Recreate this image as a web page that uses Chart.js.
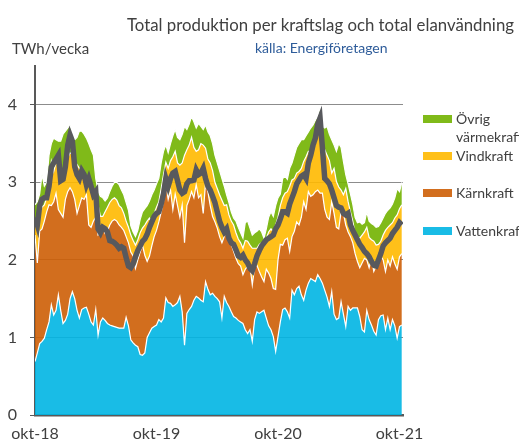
<!DOCTYPE html>
<html lang="sv">
<head>
<meta charset="utf-8">
<title>Total produktion per kraftslag och total elanvändning</title>
<script src="https://cdn.jsdelivr.net/npm/chart.js@4.4.1/dist/chart.umd.min.js"></script>
<style>
    html, body { margin: 0; padding: 0; background: #fff; }
    #wrap { position: relative; width: 519px; height: 439px; overflow: hidden; font-family: Lato, "Open Sans", sans-serif; }
    #chart { position: absolute; left: 0; top: 0; }
    .title { position: absolute; left: 127px; top: 14px; font-size: 16.8px; color: #404040; white-space: nowrap; }
    .source { position: absolute; left: 255px; top: 39px; font-size: 14px; color: #2e5c9a; white-space: nowrap; }
    .unit { position: absolute; left: 12px; top: 39px; font-size: 15px; color: #404040; white-space: nowrap; }
    .swatch { position: absolute; left: 423px; width: 29px; height: 8px; }
    .swatch::after { content: ""; position: absolute; left: 0; right: 0; bottom: -2px; height: 1px; background: rgba(255,255,255,0.8); }
    .label { position: absolute; left: 456px; font-size: 14px; line-height: 18px; color: #404040; width: 60px; }
</style>
</head>
<body>
<div id="wrap">
    <canvas id="chart" width="519" height="439"></canvas>
    <div class="title">Total produktion per kraftslag och total elanvändning</div>
    <div class="source">källa: Energiföretagen</div>
    <div class="unit">TWh/vecka</div>
    <div id="legend"></div>
</div>
<script>
// weekly values, TWh/vecka, from week 40 2018
const vattenkraft = [
    0.69, 0.80, 0.92, 0.95, 0.99, 1.10, 1.20, 1.42, 1.29, 1.35, 1.55, 1.35, 1.18, 1.22, 1.30, 1.50, 1.59, 1.50, 1.35, 1.25,
    1.36, 1.38, 1.39, 1.30, 1.20, 1.16, 1.36, 1.03, 1.20, 1.25, 1.22, 1.18, 1.16, 1.15, 1.14, 1.13, 1.12, 1.12, 1.12, 1.26,
    1.15, 0.97, 0.93, 0.90, 0.88, 0.78, 0.77, 0.80, 1.00, 1.06, 1.12, 1.14, 1.16, 1.23, 1.20, 1.25, 1.51, 1.45, 1.44, 1.40,
    1.42, 1.45, 1.53, 1.33, 0.90, 1.31, 1.36, 1.40, 1.48, 1.53, 1.51, 1.48, 1.46, 1.72, 1.62, 1.55, 1.57, 1.53, 1.50, 1.46,
    1.25, 1.53, 1.45, 1.40, 1.33, 1.27, 1.25, 1.22, 1.20, 1.18, 1.10, 1.05, 1.10, 0.95, 1.23, 1.33, 1.31, 1.33, 1.35, 1.25,
    1.15, 1.10, 1.01, 0.82, 1.01, 1.20, 1.36, 1.38, 1.33, 1.25, 1.61, 1.55, 1.63, 1.66, 1.55, 1.48, 1.61, 1.70, 1.76, 1.74,
    1.72, 1.81, 1.76, 1.70, 1.61, 1.52, 1.40, 1.59, 1.30, 1.23, 1.25, 1.46, 1.30, 1.14, 1.40, 1.35, 1.38, 1.38, 1.38, 1.27,
    1.10, 1.07, 1.35, 1.23, 1.16, 1.08, 1.03, 1.23, 1.28, 1.29, 1.10, 1.25, 1.10, 1.23, 1.15, 0.99, 1.14, 1.16
];
const karnkraft = [
    1.63, 1.16, 1.45, 1.45, 1.51, 1.52, 1.51, 1.28, 1.46, 1.51, 1.10, 1.25, 1.37, 1.56, 1.58, 1.43, 1.29, 1.28, 1.25, 1.45,
    1.44, 1.40, 1.45, 1.15, 1.22, 1.34, 1.19, 1.29, 1.15, 1.17, 1.12, 1.19, 1.29, 1.35, 1.38, 1.37, 1.33, 1.30, 1.26, 1.04,
    1.07, 1.13, 1.12, 0.99, 1.12, 1.32, 1.42, 1.26, 0.98, 0.99, 1.06, 1.16, 1.22, 1.26, 1.42, 1.50, 1.49, 1.33, 1.46, 1.25,
    1.43, 1.25, 1.02, 1.38, 1.32, 1.39, 1.42, 1.48, 1.32, 1.44, 1.29, 1.36, 1.14, 1.28, 1.26, 1.15, 0.99, 0.96, 0.91, 0.84,
    0.97, 0.77, 0.92, 0.90, 0.87, 0.84, 0.77, 0.73, 0.72, 0.63, 0.78, 0.87, 0.82, 0.73, 0.68, 0.60, 0.54, 0.45, 0.37, 0.63,
    0.68, 0.66, 0.62, 0.80, 0.99, 1.00, 0.83, 0.88, 0.95, 0.86, 0.69, 0.82, 0.86, 0.79, 1.00, 1.27, 1.04, 1.18, 1.06, 1.10,
    1.16, 1.09, 1.10, 1.16, 1.04, 1.03, 1.12, 1.16, 1.30, 1.19, 1.15, 1.16, 1.30, 1.31, 0.96, 0.95, 0.84, 0.70, 0.60, 0.63,
    0.86, 0.95, 0.65, 0.67, 0.86, 0.77, 0.89, 0.71, 0.77, 0.71, 0.75, 0.75, 0.82, 0.81, 0.80, 0.89, 0.90, 0.92
];
const vindkraft = [
    0.13, 0.45, 0.23, 0.28, 0.21, 0.18, 0.24, 0.57, 0.39, 0.39, 0.66, 0.41, 0.55, 0.42, 0.43, 0.45, 0.48, 0.49, 0.63, 0.48,
    0.35, 0.27, 0.18, 0.55, 0.55, 0.38, 0.25, 0.39, 0.21, 0.14, 0.28, 0.31, 0.29, 0.28, 0.28, 0.27, 0.25, 0.25, 0.22, 0.20,
    0.20, 0.22, 0.20, 0.30, 0.26, 0.25, 0.22, 0.39, 0.52, 0.49, 0.31, 0.30, 0.30, 0.26, 0.30, 0.35, 0.26, 0.40, 0.38, 0.68,
    0.55, 0.55, 0.67, 0.54, 1.13, 0.72, 0.70, 0.70, 0.65, 0.43, 0.62, 0.66, 0.88, 0.44, 0.42, 0.55, 0.59, 0.51, 0.51, 0.54,
    0.55, 0.40, 0.34, 0.28, 0.30, 0.34, 0.33, 0.32, 0.30, 0.34, 0.37, 0.32, 0.27, 0.47, 0.24, 0.22, 0.35, 0.44, 0.47, 0.40,
    0.53, 0.64, 0.73, 0.83, 0.55, 0.50, 0.61, 0.60, 0.60, 0.84, 0.73, 0.68, 0.63, 0.69, 0.63, 0.52, 0.68, 0.52, 0.58, 0.58,
    0.62, 0.75, 0.84, 0.54, 0.77, 0.80, 0.76, 0.37, 0.58, 0.59, 0.54, 0.28, 0.24, 0.47, 0.39, 0.32, 0.28, 0.26, 0.32, 0.38,
    0.36, 0.34, 0.42, 0.39, 0.24, 0.39, 0.27, 0.26, 0.19, 0.32, 0.53, 0.42, 0.53, 0.44, 0.59, 0.70, 0.62, 0.63
];
const ovrigVarmekraft = [
    0.26, 0.34, 0.25, 0.42, 0.24, 0.20, 0.40, 0.23, 0.43, 0.30, 0.22, 0.52, 0.52, 0.46, 0.39, 0.36, 0.24, 0.28, 0.35, 0.48,
    0.51, 0.57, 0.55, 0.50, 0.45, 0.47, 0.25, 0.17, 0.26, 0.24, 0.14, 0.12, 0.14, 0.17, 0.20, 0.23, 0.27, 0.23, 0.24, 0.24,
    0.22, 0.12, 0.11, 0.11, 0.12, 0.17, 0.21, 0.21, 0.20, 0.22, 0.35, 0.30, 0.30, 0.30, 0.33, 0.30, 0.22, 0.20, 0.22, 0.27,
    0.28, 0.33, 0.33, 0.37, 0.37, 0.26, 0.27, 0.27, 0.33, 0.30, 0.34, 0.22, 0.20, 0.30, 0.35, 0.35, 0.35, 0.35, 0.33, 0.31,
    0.28, 0.25, 0.13, 0.16, 0.12, 0.09, 0.15, 0.15, 0.13, 0.13, 0.23, 0.26, 0.22, 0.17, 0.20, 0.22, 0.20, 0.14, 0.09, 0.12,
    0.19, 0.22, 0.20, 0.25, 0.25, 0.15, 0.25, 0.22, 0.16, 0.23, 0.22, 0.30, 0.33, 0.36, 0.37, 0.28, 0.27, 0.25, 0.30, 0.32,
    0.30, 0.20, 0.26, 0.32, 0.28, 0.37, 0.34, 0.43, 0.30, 0.39, 0.56, 0.55, 0.43, 0.18, 0.23, 0.23, 0.22, 0.21, 0.18, 0.21,
    0.14, 0.12, 0.20, 0.21, 0.21, 0.21, 0.23, 0.23, 0.24, 0.22, 0.22, 0.22, 0.22, 0.24, 0.26, 0.34, 0.22, 0.29
];
const elanvandning = [
    2.55, 2.45, 2.70, 2.78, 2.80, 2.80, 2.95, 3.20, 3.25, 3.30, 3.35, 3.02, 3.04, 3.20, 3.48, 3.61, 3.53, 3.20, 3.10, 3.05,
    3.15, 3.10, 2.97, 3.05, 2.95, 2.84, 2.88, 2.40, 2.35, 2.42, 2.40, 2.36, 2.25, 2.24, 2.22, 2.19, 2.15, 2.17, 2.15, 2.03,
    1.92, 1.90, 1.95, 2.04, 2.12, 2.18, 2.24, 2.27, 2.33, 2.42, 2.49, 2.56, 2.60, 2.62, 2.72, 2.85, 3.05, 2.95, 3.05, 3.12,
    3.14, 3.02, 2.90, 2.86, 2.88, 2.98, 3.02, 3.02, 3.03, 3.16, 3.10, 3.12, 3.18, 3.05, 2.95, 2.90, 2.82, 2.74, 2.62, 2.50,
    2.42, 2.36, 2.40, 2.28, 2.22, 2.20, 2.13, 2.05, 2.03, 2.06, 2.00, 1.96, 1.89, 1.86, 1.95, 2.05, 2.12, 2.18, 2.22, 2.26,
    2.28, 2.30, 2.32, 2.40, 2.45, 2.53, 2.62, 2.62, 2.60, 2.72, 2.80, 2.88, 2.98, 3.03, 3.08, 3.10, 3.05, 3.25, 3.35, 3.48,
    3.57, 3.75, 3.83, 3.45, 3.05, 3.02, 2.98, 2.90, 2.80, 2.70, 2.68, 2.67, 2.60, 2.58, 2.60, 2.45, 2.38, 2.32, 2.26, 2.20,
    2.16, 2.11, 2.08, 2.04, 1.98, 1.93, 1.92, 2.00, 2.08, 2.18, 2.22, 2.25, 2.28, 2.34, 2.38, 2.42, 2.48, 2.45
];

// x axis labels, placed at the first week of October each year
const tickWeeks = [0, 52, 104, 156];
const tickLabels = ['okt-18', 'okt-19', 'okt-20', 'okt-21'];

const weeks = vattenkraft.map((v, i) => i);

function toPoints(values) {
    return values.map((v, i) => ({ x: weeks[i], y: v }));
}

function areaDataset(label, values, color, fill) {
    return {
        label: label,
        data: toPoints(values),
        backgroundColor: color,
        borderColor: '#ffffff',
        borderWidth: 1.2,
        fill: fill,
        pointRadius: 0,
        tension: 0,
        stack: 'produktion'
    };
}

Chart.defaults.font.family = 'Lato, "Open Sans", sans-serif';
Chart.defaults.color = '#404040';

const ctx = document.getElementById('chart').getContext('2d');

const chart = new Chart(ctx, {
    type: 'line',
    data: {
        datasets: [
            areaDataset('Vattenkraft', vattenkraft, 'rgba(0, 181, 227, 0.9)', 'origin'),
            areaDataset('Kärnkraft', karnkraft, 'rgba(205, 94, 5, 0.9)', '-1'),
            areaDataset('Vindkraft', vindkraft, 'rgba(255, 185, 0, 0.9)', '-1'),
            areaDataset('Övrig värmekraft', ovrigVarmekraft, 'rgba(114, 178, 0, 0.9)', '-1'),
            {
                label: 'Total elanvändning',
                data: toPoints(elanvandning),
                borderColor: '#58595d',
                borderWidth: 5.5,
                fill: false,
                pointRadius: 0,
                tension: 0,
                stack: 'anvandning',
                order: -1
            }
        ]
    },
    options: {
        responsive: false,
        animation: false,
        layout: {
            padding: { top: 66, right: 116, left: 0, bottom: 0 }
        },
        plugins: {
            legend: { display: false },
            tooltip: { enabled: false }
        },
        scales: {
            x: {
                type: 'linear',
                min: 0,
                max: 157.5,
                grid: { display: false, drawTicks: false },
                border: { display: true, color: '#595959', width: 2.5 },
                afterBuildTicks: function(scale) {
                    scale.ticks = tickWeeks.map(w => ({ value: w }));
                },
                afterFit: function(scale) {
                    scale.height = 24;
                },
                ticks: {
                    padding: 9,
                    maxRotation: 0,
                    autoSkip: false,
                    font: { size: 16 },
                    color: '#404040',
                    callback: function(value) {
                        const i = tickWeeks.indexOf(value);
                        return i >= 0 ? tickLabels[i] : '';
                    }
                }
            },
            y: {
                stacked: true,
                min: 0,
                max: 4.5,
                grid: {
                    color: '#8c8c8c',
                    lineWidth: 1,
                    tickLength: 5,
                    tickColor: '#595959'
                },
                border: { display: true, color: '#595959', width: 2 },
                afterBuildTicks: function(scale) {
                    scale.ticks = scale.ticks.filter(t => Number.isInteger(t.value));
                },
                afterFit: function(scale) {
                    scale.width = 35;
                },
                ticks: {
                    stepSize: 1,
                    padding: 13,
                    font: { size: 16 },
                    color: '#404040'
                }
            }
        }
    }
});

// Legend on the right, top to bottom: Övrig, Vind, Kärn, Vatten
function buildLegend() {
    const legend = document.getElementById('legend');
    const rows = [
        { index: 3, swatchTop: 115, textTop: 110 },
        { index: 2, swatchTop: 152, textTop: 147 },
        { index: 1, swatchTop: 189, textTop: 184 },
        { index: 0, swatchTop: 227, textTop: 222 }
    ];
    rows.forEach(row => {
        const ds = chart.data.datasets[row.index];
        const sw = document.createElement('div');
        sw.className = 'swatch';
        sw.style.top = row.swatchTop + 'px';
        sw.style.background = ds.backgroundColor;
        legend.appendChild(sw);

        const lbl = document.createElement('div');
        lbl.className = 'label';
        lbl.style.top = row.textTop + 'px';
        lbl.textContent = ds.label;
        legend.appendChild(lbl);
    });
}

buildLegend();
</script>
</body>
</html>
